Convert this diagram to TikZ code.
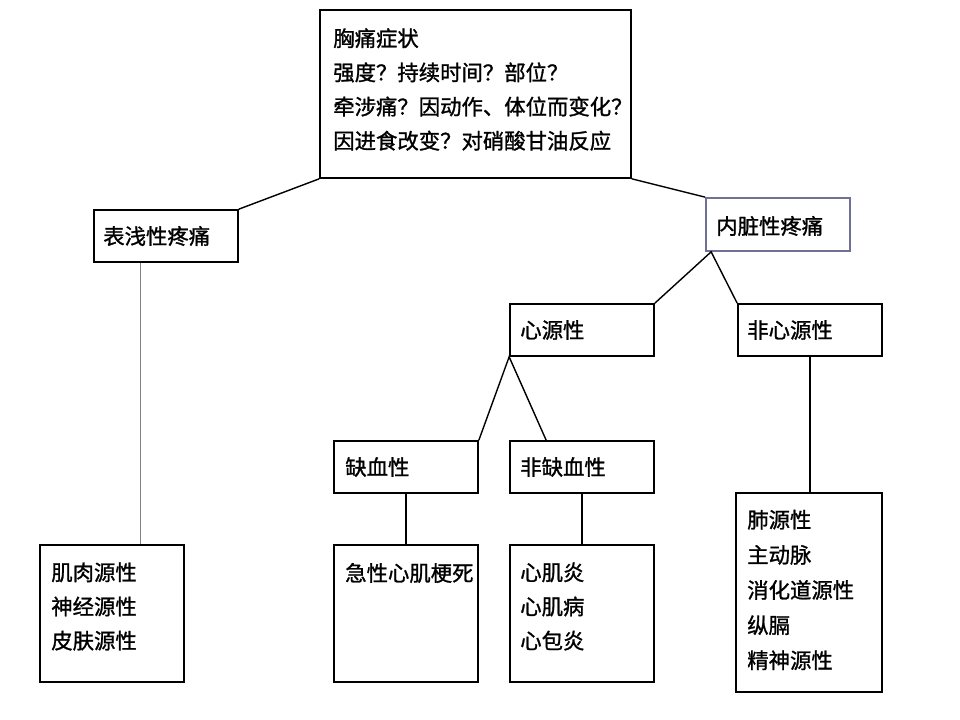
\documentclass[tikz,border=0pt]{standalone}
\usepackage{fontspec}
\setmainfont{Noto Sans CJK SC}[FakeBold=1.2]
\definecolor{boxblue}{RGB}{112,112,150}
\tikzset{
  box/.style={draw=black,line width=1.2pt,rectangle,inner sep=0pt,
              minimum width=3.6cm,minimum height=1.3cm},
  tall/.style={box,minimum height=3.425cm},
  txt/.style={anchor=west,inner sep=0pt,align=left,
              font=\fontsize{15.2pt}{24.3pt}\selectfont},
  link/.style={draw=black,line width=1pt},
}

\begin{document}
\begin{tikzpicture}[x=0.025cm,y=-0.025cm]
      \useasboundingbox (0,0) rectangle (960,720);
      % boxes
      \node[box,minimum width=7.775cm,minimum height=4.2cm] (zheng) at (475.5,94) {};
      \node[box] (biaoqian) at (166,236) {};
      \node[box,draw=boxblue,minimum height=1.325cm] (neizang) at (778,224.5) {};
      \node[box] (xinyuan) at (582,330) {};
      \node[box] (feixin) at (810,330) {};
      \node[box] (quexue) at (406,467) {};
      \node[box] (feique) at (582,467) {};
      \node[tall] (jirou) at (112,613.5) {};
      \node[tall] (jixing) at (406,613.5) {};
      \node[tall] (xinji) at (582,613.5) {};
      \node[box,minimum width=3.65cm,minimum height=4.975cm] (qita) at (809,592.5) {};
      % texts
      \node[txt] (tzheng) at (333,89.5) {胸痛症状\\强度？持续时间？部位？\\牵涉痛？因动作、体位而变化？\\因进食改变？对硝酸甘油反应};
      \node[txt] (tbiaoqian) at (103,236) {表浅性疼痛};
      \node[txt] (tneizang) at (716,226) {内脏性疼痛};
      \node[txt] (txinyuan) at (520,330) {心源性};
      \node[txt] (tfeixin) at (747,330) {非心源性};
      \node[txt] (tquexue) at (345,467) {缺血性};
      \node[txt] (tfeique) at (520,467) {非缺血性};
      \node[txt] (tjirou) at (51,606.5) {肌肉源性\\神经源性\\皮肤源性};
      \node[txt] (tjixing) at (345,573) {急性心肌梗死};
      \node[txt] (txinji) at (520,606.5) {心肌炎\\心肌病\\心包炎};
      \node[txt,font=\fontsize{15.2pt}{25pt}\selectfont] (tqita) at (747,590) {肺源性\\主动脉\\消化道源性\\纵膈\\精神源性};
      % connectors
      \coordinate (fork) at ([xshift=0.15cm]neizang.south west);
      \draw[link] (zheng.south west) -- (biaoqian.north east);
      \draw[link] (zheng.south east) -- (neizang.north west);
      \draw[draw=gray,line width=0.6pt] ([xshift=-0.65cm]biaoqian.south) -- ([xshift=-0.65cm]biaoqian.south |- jirou.north);
      \draw[link] (xinyuan.north east) -- (fork) -- (feixin.north west);
      \draw[link] (quexue.north east) -- (xinyuan.south west) -- ([xshift=0.925cm]feique.north west);
      \draw[link] (quexue.south) -- (jixing.north);
      \draw[link] (feique.south) -- (xinji.north);
      \draw[link] (feixin.south) -- (feixin.south |- qita.north);
\end{tikzpicture}
\end{document}
